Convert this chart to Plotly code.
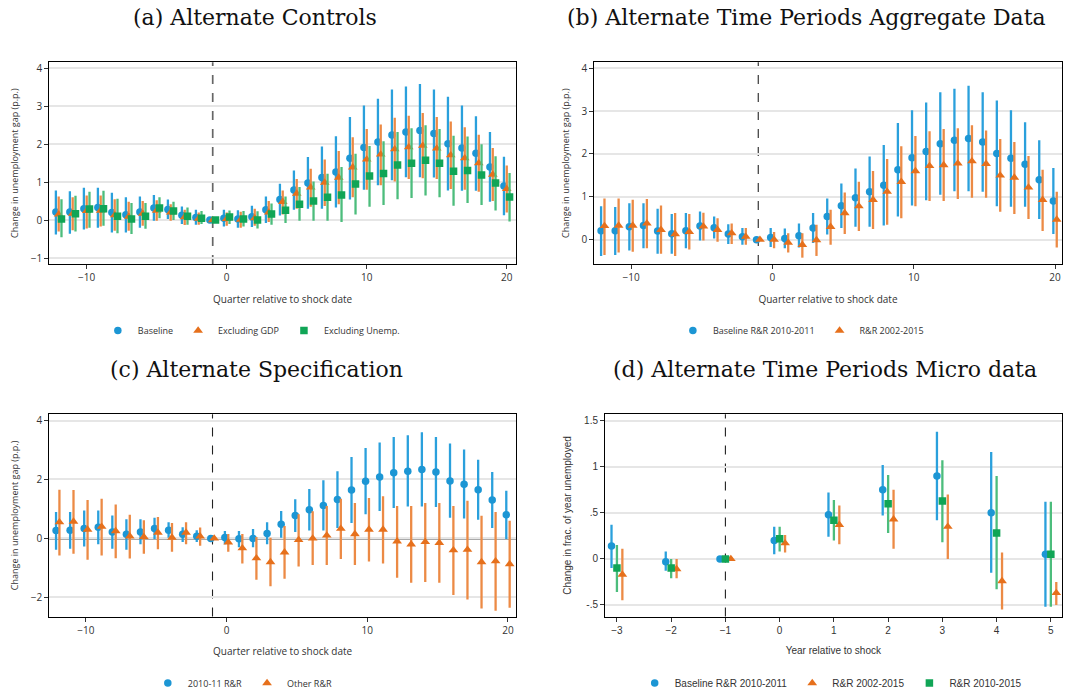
import plotly.graph_objects as go

# ---------------- data ----------------
quarters = list(range(-12, 21))

# Panel (a) Alternate Controls
a_base = [0.21, 0.21, 0.30, 0.33, 0.20, 0.14, 0.21, 0.32, 0.28, 0.13, 0.07, 0.0, 0.05, 0.03, 0.09, 0.27, 0.54, 0.79, 0.98, 1.12, 1.27, 1.63, 1.91, 2.06, 2.24, 2.32, 2.36, 2.28, 2.01, 1.90, 1.76, 1.40, 0.90]
a_base_lo = [-0.38, -0.36, -0.25, -0.20, -0.33, -0.33, -0.20, -0.02, 0.03, -0.10, -0.12, 0.0, -0.17, -0.20, -0.18, -0.08, 0.12, 0.27, 0.30, 0.30, 0.33, 0.54, 0.80, 0.92, 1.05, 1.13, 1.13, 1.12, 0.78, 0.77, 0.77, 0.48, 0.13]
a_base_hi = [0.78, 0.76, 0.85, 0.85, 0.72, 0.60, 0.62, 0.66, 0.54, 0.36, 0.27, 0.0, 0.27, 0.26, 0.38, 0.62, 0.96, 1.31, 1.66, 1.94, 2.21, 2.72, 3.02, 3.20, 3.44, 3.52, 3.59, 3.44, 3.25, 3.02, 2.74, 2.32, 1.67]

a_gdp = [0.15, 0.17, 0.24, 0.25, 0.13, 0.09, 0.17, 0.25, 0.20, 0.08, 0.04, 0.0, 0.03, 0.01, 0.05, 0.20, 0.48, 0.70, 0.86, 0.99, 1.12, 1.39, 1.60, 1.73, 1.87, 1.92, 1.96, 1.89, 1.71, 1.63, 1.50, 1.20, 0.82]
a_gdp_lo = [-0.30, -0.27, -0.22, -0.17, -0.28, -0.28, -0.15, -0.02, -0.02, -0.13, -0.12, 0.0, -0.15, -0.20, -0.15, -0.05, 0.15, 0.30, 0.35, 0.37, 0.42, 0.60, 0.80, 0.92, 1.02, 1.08, 1.10, 1.08, 0.82, 0.80, 0.75, 0.50, 0.20]
a_gdp_hi = [0.62, 0.60, 0.65, 0.65, 0.55, 0.48, 0.50, 0.52, 0.42, 0.27, 0.20, 0.0, 0.20, 0.22, 0.30, 0.50, 0.78, 1.08, 1.35, 1.60, 1.82, 2.18, 2.40, 2.52, 2.70, 2.75, 2.82, 2.72, 2.60, 2.45, 2.25, 1.90, 1.44]

a_unemp = [0.03, 0.17, 0.29, 0.30, 0.10, 0.03, 0.10, 0.32, 0.24, 0.10, 0.05, 0.0, 0.08, 0.03, 0.00, 0.16, 0.26, 0.42, 0.50, 0.60, 0.66, 0.95, 1.16, 1.23, 1.45, 1.50, 1.58, 1.50, 1.29, 1.31, 1.19, 0.98, 0.61]
a_unemp_lo = [-0.45, -0.30, -0.20, -0.15, -0.35, -0.37, -0.23, 0.05, 0.00, -0.12, -0.10, 0.0, -0.10, -0.17, -0.22, -0.12, -0.08, -0.02, -0.02, -0.02, -0.05, 0.15, 0.35, 0.40, 0.55, 0.58, 0.65, 0.60, 0.38, 0.45, 0.40, 0.25, -0.04]
a_unemp_hi = [0.55, 0.64, 0.75, 0.77, 0.56, 0.45, 0.45, 0.60, 0.48, 0.33, 0.24, 0.0, 0.25, 0.24, 0.23, 0.44, 0.62, 0.87, 1.02, 1.22, 1.40, 1.75, 1.95, 2.08, 2.32, 2.42, 2.50, 2.40, 2.22, 2.20, 2.00, 1.68, 1.24]

# Panel (b) Alternate Time Periods Aggregate Data
b_base = a_base
b_base_lo = a_base_lo
b_base_hi = a_base_hi
b_rr = [0.32, 0.33, 0.33, 0.38, 0.23, 0.13, 0.18, 0.31, 0.23, 0.15, 0.07, 0.0, 0.00, -0.07, -0.12, -0.01, 0.30, 0.62, 0.78, 0.93, 1.12, 1.35, 1.60, 1.72, 1.74, 1.78, 1.83, 1.77, 1.50, 1.45, 1.22, 0.93, 0.47]
b_rr_lo = [-0.36, -0.30, -0.28, -0.20, -0.33, -0.38, -0.23, -0.02, -0.05, -0.10, -0.12, 0.0, -0.20, -0.30, -0.42, -0.38, -0.12, 0.13, 0.20, 0.25, 0.35, 0.50, 0.78, 0.90, 0.90, 0.95, 0.98, 0.98, 0.65, 0.60, 0.48, 0.20, -0.18]
b_rr_hi = [0.96, 0.96, 0.93, 0.95, 0.80, 0.62, 0.60, 0.63, 0.50, 0.38, 0.27, 0.0, 0.18, 0.15, 0.15, 0.35, 0.70, 1.10, 1.35, 1.60, 1.88, 2.18, 2.42, 2.53, 2.58, 2.60, 2.67, 2.55, 2.35, 2.28, 1.95, 1.63, 1.12]

# Panel (c) Alternate Specification
c_base = [0.27, 0.28, 0.34, 0.38, 0.22, 0.14, 0.22, 0.34, 0.28, 0.14, 0.07, 0.0, 0.03, -0.01, 0.00, 0.17, 0.48, 0.78, 0.97, 1.12, 1.32, 1.64, 1.94, 2.08, 2.23, 2.28, 2.34, 2.25, 1.95, 1.84, 1.65, 1.30, 0.80]
c_base_lo = [-0.38, -0.35, -0.27, -0.20, -0.35, -0.38, -0.20, -0.02, 0.02, -0.12, -0.12, 0.0, -0.20, -0.30, -0.30, -0.20, 0.02, 0.22, 0.27, 0.27, 0.35, 0.52, 0.82, 0.93, 1.03, 1.08, 1.08, 1.07, 0.70, 0.68, 0.63, 0.35, -0.02]
c_base_hi = [0.90, 0.90, 0.95, 0.95, 0.78, 0.65, 0.65, 0.70, 0.55, 0.38, 0.28, 0.0, 0.25, 0.25, 0.32, 0.55, 0.93, 1.33, 1.68, 1.97, 2.28, 2.76, 3.07, 3.25, 3.44, 3.50, 3.60, 3.44, 3.22, 3.02, 2.67, 2.25, 1.62]
c_other = [0.55, 0.57, 0.30, 0.40, 0.25, 0.07, 0.05, 0.20, 0.03, 0.20, 0.07, 0.0, -0.13, -0.33, -0.67, -0.80, -0.47, -0.05, 0.00, 0.10, 0.33, 0.15, 0.30, 0.30, -0.10, -0.20, -0.12, -0.15, -0.40, -0.38, -0.80, -0.77, -0.87]
c_other_lo = [-0.58, -0.52, -0.72, -0.58, -0.67, -0.68, -0.52, -0.37, -0.45, -0.20, -0.25, 0.0, -0.45, -0.85, -1.40, -1.62, -1.37, -0.95, -0.90, -0.90, -0.70, -0.90, -0.78, -0.85, -1.33, -1.50, -1.48, -1.50, -1.92, -2.07, -2.38, -2.45, -2.35]
c_other_hi = [1.65, 1.64, 1.30, 1.35, 1.15, 0.80, 0.62, 0.73, 0.52, 0.55, 0.37, 0.0, 0.15, 0.15, 0.05, 0.02, 0.42, 0.82, 0.92, 1.10, 1.35, 1.20, 1.37, 1.43, 1.10, 1.10, 1.20, 1.20, 1.10, 1.28, 0.77, 0.90, 0.60]

# Panel (d) Alternate Time Periods Micro data
years = list(range(-3, 6))
d_base = [0.14, -0.03, 0.0, 0.20, 0.48, 0.75, 0.90, 0.50, 0.05]
d_base_lo = [-0.10, -0.13, 0.0, 0.05, 0.24, 0.47, 0.42, -0.15, -0.52]
d_base_hi = [0.37, 0.08, 0.0, 0.35, 0.72, 1.02, 1.38, 1.16, 0.62]
d_rr0215 = [-0.17, -0.11, 0.0, 0.17, 0.37, 0.43, 0.35, -0.24, -0.37]
d_rr0215_lo = [-0.45, -0.21, 0.0, 0.07, 0.16, 0.11, 0.00, -0.55, -0.50]
d_rr0215_hi = [0.11, 0.00, 0.0, 0.26, 0.58, 0.75, 0.70, 0.07, -0.25]
d_rr1015 = [-0.10, -0.10, 0.0, 0.22, 0.42, 0.60, 0.63, 0.28, 0.05]
d_rr1015_lo = [-0.36, -0.21, 0.0, 0.08, 0.20, 0.28, 0.18, -0.33, -0.52]
d_rr1015_hi = [0.15, 0.00, 0.0, 0.35, 0.64, 0.91, 1.07, 0.90, 0.62]

# ---------------- styling ----------------
BLUE = "#1c96d4"
ORANGE = "#e6701c"
GREEN = "#10a556"
BLUE_CI = "#2aa0dc"
ORANGE_CI = "#ec8a45"
GREEN_CI = "#4cbd7c"
SANS = "Open Sans"
SANS_D = "Liberation Sans"
SERIF = "DejaVu Serif"

fig = go.Figure()


def add_series(x, y, lo, hi, offset, name, color, ci_color, symbol, size, xa, ya, legend):
    xs = [v + offset for v in x]
    fig.add_trace(go.Scatter(
        x=xs, y=y, mode="markers", name=name,
        marker=dict(color=color, symbol=symbol, size=size, line=dict(width=0)),
        error_y=dict(type="data", symmetric=False,
                     array=[h - v for h, v in zip(hi, y)],
                     arrayminus=[v - l for v, l in zip(y, lo)],
                     color=ci_color, thickness=2.3, width=0),
        xaxis=xa, yaxis=ya, legend=legend,
    ))


# Panel (a)
add_series(quarters, a_base, a_base_lo, a_base_hi, -0.2, "Baseline", BLUE, BLUE_CI, "circle", 7.5, "x", "y", "legend")
add_series(quarters, a_gdp, a_gdp_lo, a_gdp_hi, 0.0, "Excluding GDP", ORANGE, ORANGE_CI, "triangle-up", 8.5, "x", "y", "legend")
add_series(quarters, a_unemp, a_unemp_lo, a_unemp_hi, 0.2, "Excluding Unemp.", GREEN, GREEN_CI, "square", 7.5, "x", "y", "legend")
# Panel (b)
add_series(quarters, b_base, b_base_lo, b_base_hi, -0.12, "Baseline R&R 2010-2011", BLUE, BLUE_CI, "circle", 7.5, "x2", "y2", "legend2")
add_series(quarters, b_rr, b_rr_lo, b_rr_hi, 0.12, "R&R 2002-2015", ORANGE, ORANGE_CI, "triangle-up", 8.5, "x2", "y2", "legend2")
# Panel (c)
add_series(quarters, c_base, c_base_lo, c_base_hi, -0.12, "2010-11 R&R", BLUE, BLUE_CI, "circle", 7.5, "x3", "y3", "legend3")
add_series(quarters, c_other, c_other_lo, c_other_hi, 0.12, "Other R&R", ORANGE, ORANGE_CI, "triangle-up", 8.5, "x3", "y3", "legend3")
# Panel (d)
add_series(years, d_base, d_base_lo, d_base_hi, -0.1, "Baseline R&R 2010-2011", BLUE, BLUE_CI, "circle", 7.5, "x4", "y4", "legend4")
add_series(years, d_rr0215, d_rr0215_lo, d_rr0215_hi, 0.1, "R&R 2002-2015", ORANGE, ORANGE_CI, "triangle-up", 8.5, "x4", "y4", "legend4")
add_series(years, d_rr1015, d_rr1015_lo, d_rr1015_hi, 0.0, "R&R 2010-2015", GREEN, GREEN_CI, "square", 7.5, "x4", "y4", "legend4")

W, H = 1065, 698


def px_x(p):
    return p / W


def px_y(p):
    return 1 - p / H


dom_left = [px_x(49.3), px_x(516)]
dom_right_b = [px_x(594.3), px_x(1061.7)]
dom_right_d = [px_x(605), px_x(1061.7)]
dom_top = [px_y(266), px_y(62.7)]
dom_bot = [px_y(621), px_y(417.3)]


def xaxis(domain, rng, tickvals, anchor, font, title):
    return dict(domain=domain, range=rng, tickvals=tickvals, anchor=anchor,
                showgrid=False, zeroline=False, showline=True, mirror=True,
                linecolor="black", linewidth=1, ticks="outside", ticklen=4,
                tickcolor="#333", tickfont=dict(family=font, size=10, color="#333"),
                title=dict(text=title, font=dict(family=font, size=10, color="#333"), standoff=12))


def yaxis(domain, rng, tickvals, ticktext, anchor, font, title, tsize=9):
    return dict(domain=domain, range=rng, tickvals=tickvals, ticktext=ticktext, anchor=anchor,
                showgrid=True, gridcolor="#e6e6e6", gridwidth=1.5, zeroline=False,
                showline=True, mirror=True, linecolor="black", linewidth=1,
                ticks="outside", ticklen=4, tickcolor="#333",
                tickfont=dict(family=font, size=10, color="#333"),
                title=dict(text=title, font=dict(family=font, size=tsize, color="#333"), standoff=10))


ytitle = "Change in unemployment gap (p.p.)"
xtitle = "Quarter relative to shock date"

fig.update_layout(
    width=W, height=H, margin=dict(l=0, r=0, t=0, b=0),
    paper_bgcolor="white", plot_bgcolor="white", showlegend=True,
    xaxis=xaxis(dom_left, [-12.67, 20.66], [-10, 0, 10, 20], "y", SANS, xtitle),
    yaxis=yaxis(dom_top, [-1.16, 4.16], [-1, 0, 1, 2, 3, 4], None, "x", SANS, ytitle),
    xaxis2=xaxis(dom_right_b, [-12.6, 20.47], [-10, 0, 10, 20], "y2", SANS, xtitle),
    yaxis2=yaxis(dom_top, [-0.57, 4.14], [0, 1, 2, 3, 4], None, "x2", SANS, ytitle),
    xaxis3=xaxis(dom_left, [-12.6, 20.57], [-10, 0, 10, 20], "y3", SANS, xtitle),
    yaxis3=yaxis(dom_bot, [-2.65, 4.21], [-2, 0, 2, 4], None, "x3", SANS, ytitle),
    xaxis4=xaxis(dom_right_d, [-3.22, 5.2], years, "y4", SANS_D, "Year relative to shock"),
    yaxis4=yaxis(dom_bot, [-0.626, 1.57], [-0.5, 0, 0.5, 1, 1.5], ["-.5", "0", ".5", "1", "1.5"],
                 "x4", SANS_D, "Change in frac. of year unemployed", tsize=10),
)

leg_common = dict(orientation="h", xanchor="center", yanchor="middle",
                  bgcolor="rgba(0,0,0,0)", itemwidth=30, tracegroupgap=0)
fig.update_layout(
    legend=dict(x=0.236, y=px_y(333), font=dict(family=SANS, size=9, color="#333"), **leg_common),
    legend2=dict(x=0.752, y=px_y(333), font=dict(family=SANS, size=9, color="#333"), **leg_common),
    legend3=dict(x=0.228, y=px_y(688), font=dict(family=SANS, size=9, color="#333"), **leg_common),
    legend4=dict(x=0.78, y=px_y(688), font=dict(family=SANS_D, size=10, color="#333"), **leg_common),
)

# reference lines: zero line and shock line at -1
shapes = []
for xa, ya, zcol, zw, dcol, dw in [("x", "y", "black", 1.3, "#666", 1.7),
                                    ("x2", "y2", "black", 1.3, "#222", 1.1),
                                    ("x3", "y3", "#555", 2, "#222", 1.1),
                                    ("x4", "y4", "#555", 2, "#222", 1.1)]:
    shapes.append(dict(type="line", xref=f"{xa} domain", yref=ya, x0=0, x1=1, y0=0, y1=0,
                       line=dict(color=zcol, width=zw), layer="below"))
    shapes.append(dict(type="line", xref=xa, yref=f"{ya} domain", x0=-1, x1=-1, y0=0, y1=1,
                       line=dict(color=dcol, width=dw, dash="dash"), layer="below"))
fig.update_layout(shapes=shapes)

# panel titles
titles = [("(a) Alternate Controls", 255, 18), ("(b) Alternate Time Periods Aggregate Data", 806, 18),
          ("(c) Alternate Specification", 256, 372), ("(d) Alternate Time Periods Micro data", 825, 372)]
for t, xp, yp in titles:
    fig.add_annotation(text=t, x=px_x(xp), y=px_y(yp), xref="paper", yref="paper",
                       showarrow=False, xanchor="center", yanchor="middle",
                       font=dict(family=SERIF, size=22, color="#111"))

fig.write_html("out.html")
